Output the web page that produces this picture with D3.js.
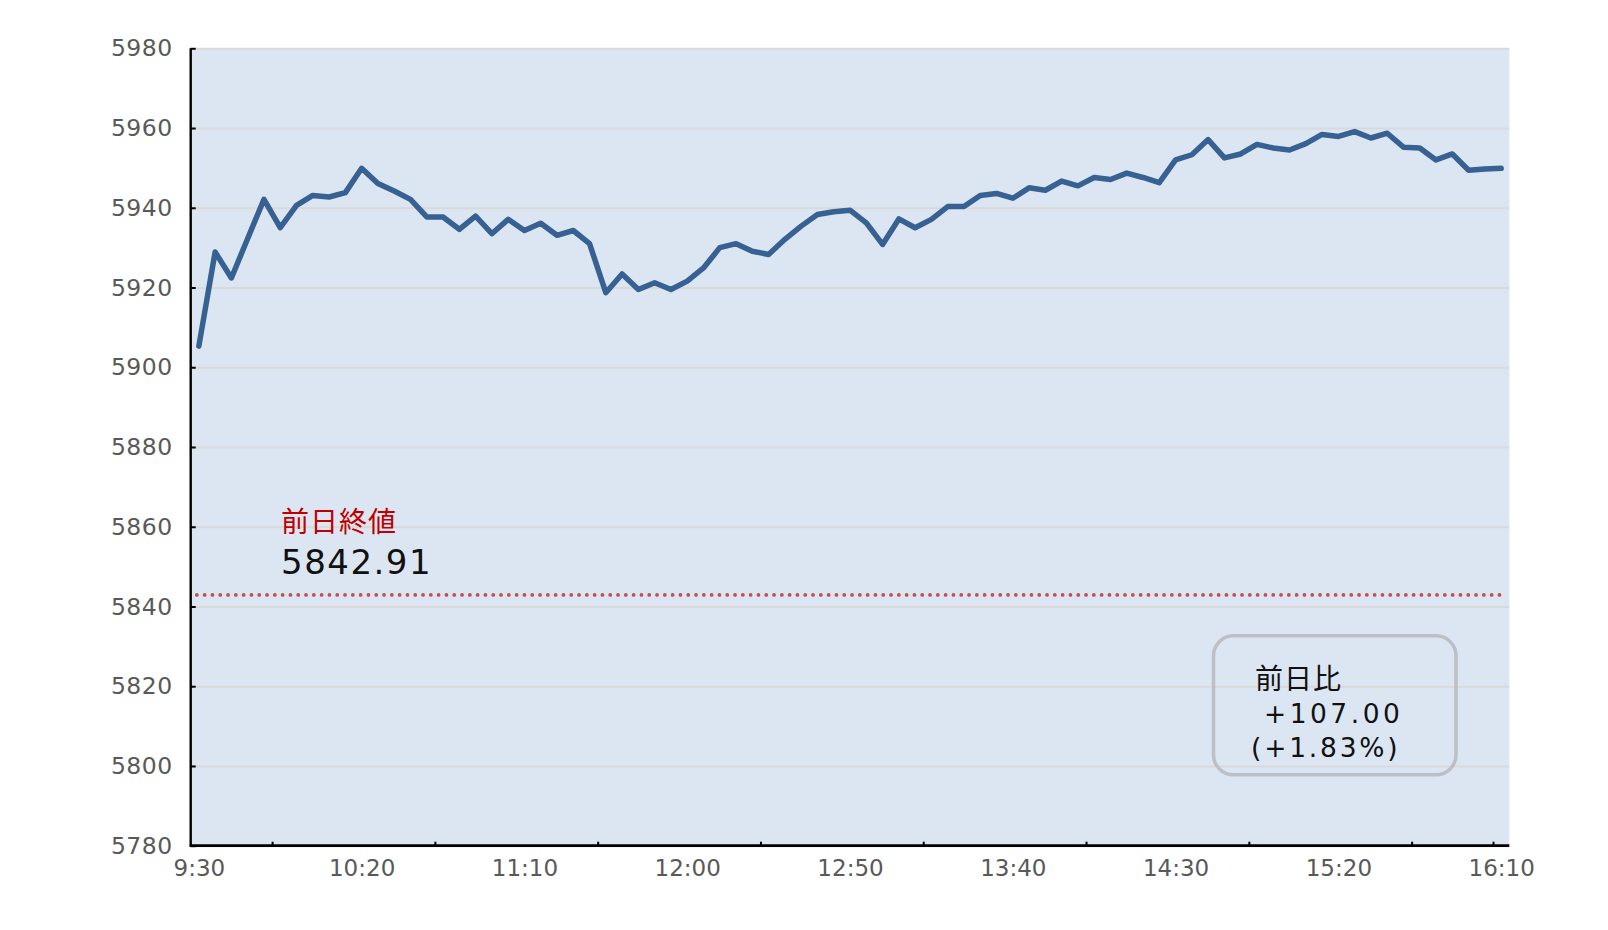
<!DOCTYPE html>
<html>
<head>
<meta charset="utf-8">
<script src="https://cdn.jsdelivr.net/npm/d3@7"></script>
<style>
  body { margin: 0; background: #fff; }
  svg { display: block; }
</style>
</head>
<body>
<svg></svg>
<script>
// 5分足 (9:30 - 16:10)
let values = [
    5905.3, 5928.9, 5922.4, 5932.3, 5942.1, 5935.0, 5940.6, 5943.1, 5942.7, 5943.8,
    5949.9, 5946.1, 5944.2, 5942.1, 5937.7, 5937.7, 5934.6, 5937.9, 5933.5, 5937.1,
    5934.3, 5936.1, 5933.1, 5934.3, 5931.0, 5918.7, 5923.4, 5919.5, 5921.2, 5919.5,
    5921.6, 5924.9, 5930.0, 5931.0, 5929.1, 5928.3, 5932.1, 5935.4, 5938.3, 5939.0,
    5939.4, 5936.2, 5930.8, 5937.2, 5935.0, 5937.1, 5940.3, 5940.3, 5943.1, 5943.6,
    5942.4, 5945.0, 5944.4, 5946.7, 5945.5, 5947.6, 5947.1, 5948.7, 5947.6, 5946.3,
    5952.0, 5953.3, 5957.1, 5952.5, 5953.5, 5955.9, 5955.0, 5954.5, 5956.1, 5958.4,
    5957.9, 5959.1, 5957.5, 5958.7, 5955.2, 5955.0, 5952.0, 5953.5, 5949.4, 5949.7,
    5949.91
];

let xLabels = ["9:30", "10:20", "11:10", "12:00", "12:50", "13:40", "14:30", "15:20", "16:10"];
let xLabelIdx = [0, 10, 20, 30, 40, 50, 60, 70, 80];
let xTickIdx = [5, 15, 25, 35, 45, 55, 65, 75, 80];
let yTicks = [5780, 5800, 5820, 5840, 5860, 5880, 5900, 5920, 5940, 5960, 5980];

let prevClose = 5842.91;
let prevLabel = "前日終値";
let diffLines = ["前日比", " +107.00", "(+1.83%)"];

let width = 1608;
let height = 930;
let plotLeft = 190.7, plotRight = 1509.3, plotTop = 48.3, plotBottom = 845.7;

let font = "'DejaVu Sans', 'Noto Sans CJK JP', sans-serif";

let svg = d3.select("svg")
    .attr("width", width)
    .attr("height", height)
    .style("font-family", font);

let xScale = d3.scaleLinear().domain([0, values.length]).range([plotLeft, plotRight]);
let yScale = d3.scaleLinear().domain([5780, 5980]).range([plotBottom, plotTop]);

// plot area
svg.append("rect")
    .attr("x", xScale.range()[0])
    .attr("y", yScale.range()[1])
    .attr("width", xScale.range()[1] - xScale.range()[0])
    .attr("height", yScale.range()[0] - yScale.range()[1])
    .attr("fill", "#dce6f2");

// gridlines
let grid = svg.append("g")
    .attr("transform", `translate(${plotLeft}, 0)`)
    .call(d3.axisRight(yScale).tickValues(yTicks).tickSize(plotRight - plotLeft).tickFormat(""));
grid.select(".domain").remove();
grid.selectAll("line").attr("stroke", "#d9d9d9").attr("stroke-width", 2);

// y labels
let yAxis = svg.append("g")
    .attr("transform", `translate(${plotLeft}, 0)`)
    .call(d3.axisLeft(yScale).tickValues(yTicks).tickSize(0).tickPadding(18).tickFormat(d3.format("d")));
yAxis.select(".domain").remove();
yAxis.selectAll("text")
    .attr("fill", "#595959")
    .style("font-size", "23.5px")
    .style("font-family", font)
    .style("letter-spacing", "0.5px");

// y inner ticks
let yTickG = svg.append("g")
    .attr("transform", `translate(${plotLeft}, 0)`)
    .call(d3.axisRight(yScale).tickValues(yTicks).tickSize(5).tickFormat(""));
yTickG.select(".domain").remove();
yTickG.selectAll("line").attr("stroke", "#000").attr("stroke-width", 2);

// x labels
let xAxis = svg.append("g")
    .attr("transform", `translate(0, ${plotBottom})`)
    .call(d3.axisBottom(xScale)
        .tickValues(xLabelIdx.map(i => i + 0.5))
        .tickSize(0)
        .tickPadding(14)
        .tickFormat((d, i) => xLabels[i]));
xAxis.select(".domain").remove();
xAxis.selectAll("text")
    .attr("fill", "#595959")
    .style("font-size", "23px")
    .style("font-family", font);

// x inner ticks
let xTickG = svg.append("g")
    .attr("transform", `translate(0, ${plotBottom})`)
    .call(d3.axisTop(xScale).tickValues(xTickIdx).tickSize(4).tickFormat(""));
xTickG.select(".domain").remove();
xTickG.selectAll("line").attr("stroke", "#000").attr("stroke-width", 2);

// axis lines
svg.append("line")
    .attr("x1", plotLeft).attr("x2", plotLeft)
    .attr("y1", plotTop).attr("y2", plotBottom + 1)
    .attr("stroke", "#000").attr("stroke-width", 2.4);
svg.append("line")
    .attr("x1", plotLeft - 1).attr("x2", plotRight)
    .attr("y1", plotBottom).attr("y2", plotBottom)
    .attr("stroke", "#000").attr("stroke-width", 2.7);

// previous close
svg.append("line")
    .attr("x1", xScale(0.5) - 2)
    .attr("x2", xScale(values.length - 0.5) + 2)
    .attr("y1", yScale(prevClose))
    .attr("y2", yScale(prevClose))
    .attr("stroke", "#c0504d")
    .attr("stroke-width", 3.8)
    .attr("stroke-linecap", "round")
    .attr("stroke-dasharray", "0,7.8");

svg.append("text")
    .attr("x", 281)
    .attr("y", 532)
    .attr("fill", "#c00000")
    .style("font-size", "28px")
    .style("letter-spacing", "1px")
    .text(prevLabel);

svg.append("text")
    .attr("x", 281)
    .attr("y", 574)
    .attr("fill", "#111")
    .style("font-size", "34px")
    .style("letter-spacing", "1.5px")
    .text(prevClose.toFixed(2));

// price line
let line = d3.line()
    .x((d, i) => xScale(i + 0.5))
    .y(d => yScale(d));

svg.append("path")
    .datum(values)
    .attr("d", line)
    .attr("fill", "none")
    .attr("stroke", "#366192")
    .attr("stroke-width", 5.5)
    .attr("stroke-linejoin", "round")
    .attr("stroke-linecap", "round");

// diff box
svg.append("rect")
    .attr("x", 1213.5)
    .attr("y", 635.8)
    .attr("width", 242.5)
    .attr("height", 139)
    .attr("rx", 20)
    .attr("fill", "none")
    .attr("stroke", "#bcc0c6")
    .attr("stroke-width", 3.5);

let boxText = svg.append("text")
    .attr("fill", "#111")
    .style("white-space", "pre");
boxText.append("tspan")
    .attr("x", 1255).attr("y", 689)
    .style("font-size", "28px")
    .style("letter-spacing", "1px")
    .text(diffLines[0]);
boxText.append("tspan")
    .attr("x", 1252).attr("y", 722.7)
    .style("font-size", "26.5px")
    .style("letter-spacing", "3.5px")
    .text(diffLines[1]);
boxText.append("tspan")
    .attr("x", 1251).attr("y", 757)
    .style("font-size", "26.5px")
    .style("letter-spacing", "2.8px")
    .text(diffLines[2]);
</script>
</body>
</html>
